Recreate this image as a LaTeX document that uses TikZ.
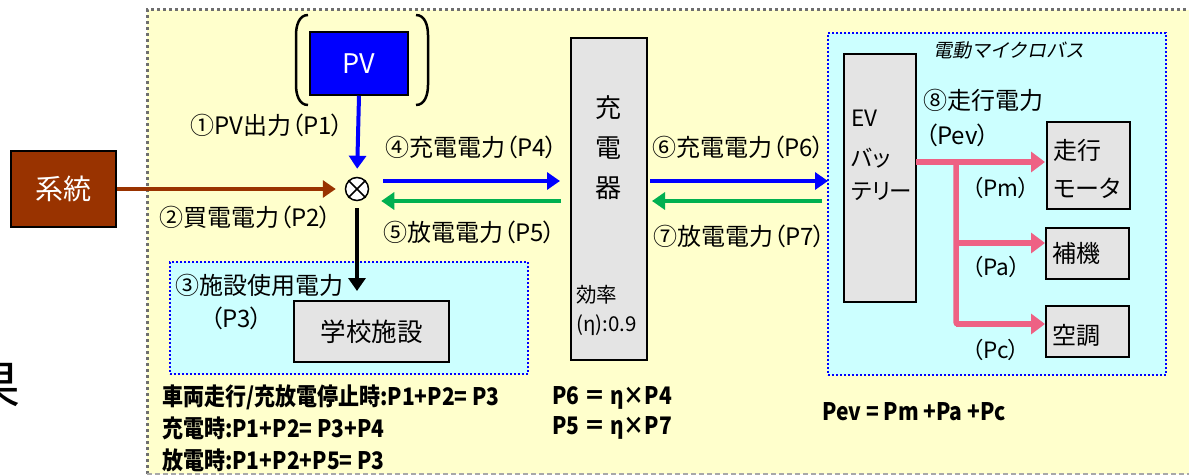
\documentclass[tikz,border=0pt]{standalone}
\usepackage{fontspec}
\setmainfont{Noto Sans CJK JP}[RawFeature=+palt]
\newfontfamily\cjkit{Noto Sans CJK JP}[FakeSlant=0.2]
\usetikzlibrary{arrows.meta,calc}
\definecolor{bgyellow}{HTML}{FFFFCC}
\definecolor{bgcyan}{HTML}{CCFFFF}
\definecolor{boxgray}{HTML}{E4E4E4}
\definecolor{gridbrown}{HTML}{993300}
\definecolor{flowblue}{HTML}{0000FF}
\definecolor{flowgreen}{HTML}{00B050}
\definecolor{flowpink}{HTML}{EE6184}
\definecolor{framegray}{HTML}{6E6E6E}
\definecolor{framegray2}{HTML}{A8A8A8}
\newcommand{\tallbold}[1]{\scalebox{1}[1.15]{#1}}
\begin{document}
\begin{tikzpicture}[x=1pt,y=-1pt,
  graybox/.style={draw=black,line width=1.5pt,fill=boxgray,inner sep=0pt,outer sep=0pt},
  region/.style={draw=flowblue,line width=2pt,dash pattern=on 2pt off 2pt,fill=bgcyan,inner sep=0pt,outer sep=0pt},
  lbl/.style={font=\fontsize{24}{26}\selectfont,inner sep=0pt,anchor=west},
  smalllbl/.style={font=\fontsize{20.5}{22}\selectfont,inner sep=0pt,anchor=west},
  eqn/.style={font=\fontsize{21}{22}\selectfont\bfseries,inner sep=0pt,anchor=west},
  boxtxt/.style={font=\fontsize{24}{26}\selectfont,inner sep=0pt,anchor=west},
  tip/.style={-{Triangle[length=13pt,width=17pt]}},
  bluearrow/.style={tip,draw=flowblue,line width=4pt},
  greenarrow/.style={tip,draw=flowgreen,line width=4pt},
  brownarrow/.style={tip,draw=gridbrown,line width=4pt},
  blackarrow/.style={tip,draw=black,line width=4pt},
  pinkline/.style={draw=flowpink,line width=5.5pt},
  pinkarrow/.style={pinkline,-{Triangle[length=14pt,width=20pt]}}
]
\useasboundingbox (0,0) rectangle (1189,476);
\clip (0,0) rectangle (1189,476);

% outer frame
\fill[bgyellow] (147,10) rectangle (1195,474);
\draw[framegray,line width=3pt,dash pattern=on 3pt off 3pt] (147,474) -- (147,10) -- (1195,10);
\draw[framegray2,line width=1.5pt,dash pattern=on 5pt off 3pt] (147,474) -- (1195,474);

% partial character at left edge
\node[font=\fontsize{52}{52}\selectfont,inner sep=0pt] (cut) at (-5,386) {果};

% regions
\node[region,minimum width=358,minimum height=112] (fac) at (349,318) {};
\node[region,minimum width=338,minimum height=342] (evbus) at (997,204) {};

% boxes
\node[draw=black,line width=1.5pt,fill=flowblue,minimum width=98,minimum height=63,inner sep=0pt,
      text=white,font=\fontsize{27}{27}\selectfont] (pv) at (359,63.5) {PV};
\node[draw=black,line width=1.5pt,fill=gridbrown,minimum width=105,minimum height=76,inner sep=0pt,
      text=white,font=\fontsize{28}{28}\selectfont] (grid) at (63.5,189) {系統};
\node[circle,draw=black,line width=1.5pt,fill=white,minimum size=23,inner sep=0pt] (mix) at (357,189) {};
\draw[line width=1.5pt] (mix.north east) -- (mix.south west) (mix.north west) -- (mix.south east);

\node[graybox,minimum width=155,minimum height=61,font=\fontsize{25.5}{26}\selectfont] (school) at (371.5,331.5) {学校施設};
\node[graybox,minimum width=76,minimum height=322] (chg) at (609,199) {};
\node[graybox,minimum width=72,minimum height=248] (bat) at (880,178) {};
\node[graybox,minimum width=83,minimum height=87] (motor) at (1088.5,165.5) {};
\node[graybox,minimum width=83,minimum height=51] (aux) at (1087.5,253.5) {};
\node[graybox,minimum width=83,minimum height=51] (ac) at (1087.5,331.5) {};

% PV bracket
\draw[line width=2.5pt] (308,15) to[out=180,in=90] (296,35) -- (296,85) to[out=-90,in=180] (308,105);
\draw[line width=2.5pt] (416,15) to[out=0,in=90] (428,35) -- (428,85) to[out=-90,in=0] (416,105);

% texts in boxes
\node[font=\fontsize{26}{26}\selectfont,inner sep=0pt] (c1) at (608,108) {充};
\node[font=\fontsize{26}{26}\selectfont,inner sep=0pt] (c2) at (608,148) {電};
\node[font=\fontsize{26}{26}\selectfont,inner sep=0pt] (c3) at (608,188) {器};
\node[smalllbl] (eff1) at (576,295) {効率};
\node[smalllbl] (eff2) at (576,325) {(η):0.9};
\node[boxtxt,font=\fontsize{22.5}{24}\selectfont] (b1) at (851,118) {EV};
\node[boxtxt,font=\fontsize{22.5}{24}\selectfont] (b2) at (851,158) {バッ};
\node[boxtxt,font=\fontsize{22.5}{24}\selectfont] (b3) at (851,192) {テリー};
\node[boxtxt] (m1) at (1053,150) {走行};
\node[boxtxt] (m2) at (1053,188) {モータ};
\node[boxtxt] (a1) at (1052,253) {補機};
\node[boxtxt] (k1) at (1052,335) {空調};

% labels
\node[lbl] (l1) at (190,125) {①PV出力（P1）};
\node[lbl] (l2) at (159,217) {②買電電力（P2）};
\node[lbl] (l3) at (175,285) {③施設使用電力};
\node[lbl] (l3b) at (210,318) {（P3）};
\node[lbl] (l4) at (385,147) {④充電電力（P4）};
\node[lbl] (l5) at (383,232) {⑤放電電力（P5）};
\node[lbl] (l6) at (652,147) {⑥充電電力（P6）};
\node[lbl] (l7) at (653,236) {⑦放電電力（P7）};
\node[lbl] (l8) at (923,100) {⑧走行電力};
\node[lbl] (l8b) at (925,135) {（Pev）};
\node[lbl,font=\fontsize{22.5}{24}\selectfont] (lm) at (972,188) {（Pm）};
\node[lbl,font=\fontsize{22.5}{24}\selectfont] (la) at (972,267) {（Pa）};
\node[lbl,font=\fontsize{22.5}{24}\selectfont] (lc) at (972,350) {（Pc）};
\node[inner sep=0pt,anchor=west,font=\fontsize{19}{20}\selectfont\cjkit] (bus) at (933,50) {電動マイクロバス};

% equations
\node[eqn] (e1) at (162,397) {\tallbold{車両走行/充放電停止時:P1+P2= P3}};
\node[eqn] (e2) at (162,428) {\tallbold{充電時:P1+P2= P3+P4}};
\node[eqn] (e3) at (162,460) {\tallbold{放電時:P1+P2+P5= P3}};
\node[eqn] (e4) at (552,398) {\tallbold{P6 ＝ η×P4}};
\node[eqn] (e5) at (552,428) {\tallbold{P5 ＝ η×P7}};
\node[eqn] (e6) at (822,412) {\tallbold{Pev = Pm +Pa +Pc}};

% connectors
\draw[bluearrow,shorten >=8pt] (pv.south) -- (mix.north);
\draw[brownarrow,shorten >=9pt] (grid.east) -- (mix.west);
\coordinate (facin) at (357,291);
\draw[blackarrow,shorten <=7pt] (mix.south) -- (facin);

\draw[bluearrow,shorten <=14pt,shorten >=11pt] ([yshift=8pt]mix.east) -- ([yshift=8pt]mix.east -| chg.west);
\draw[greenarrow,shorten <=10pt,shorten >=12pt] ([yshift=-12pt]mix.east -| chg.west) -- ([yshift=-12pt]mix.east);
\draw[bluearrow,shorten <=3pt] ([yshift=8pt]mix.east -| chg.east) -- ([yshift=8pt]mix.east -| evbus.west);
\draw[greenarrow,shorten <=6pt,shorten >=5pt] ([yshift=-12pt]mix.east -| evbus.west) -- ([yshift=-12pt]mix.east -| chg.east);

\coordinate (br0) at (956,162);
\coordinate (br1) at (956,243);
\coordinate (br2) at (956,324);
\draw[pinkarrow,shorten >=2pt] (bat.east |- br0) -- (motor.west |- br0);
\draw[pinkline,rounded corners=2pt] (br0) -- (br2) -- ($(br2)+(20,0)$);
\draw[pinkarrow,shorten >=1pt] (br1) -- (aux.west |- br1);
\draw[pinkarrow,shorten >=1pt] (br2) -- (ac.west |- br2);
\end{tikzpicture}
\end{document}
